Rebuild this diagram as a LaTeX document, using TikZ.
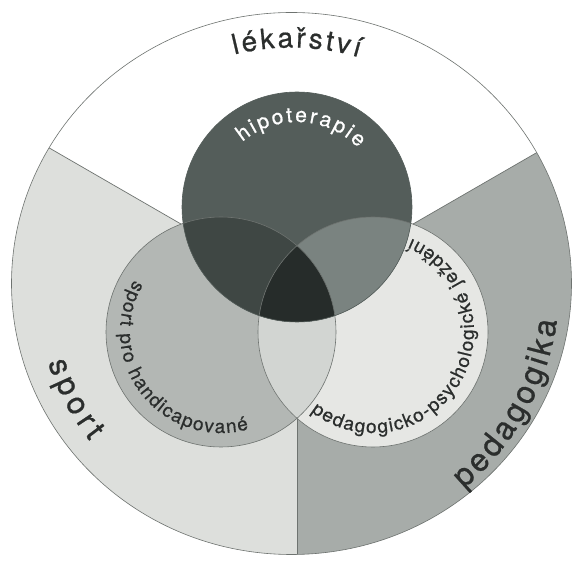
\documentclass[tikz,border=0pt]{standalone}
\usepackage{fontspec}
\usetikzlibrary{decorations.text,calc}
\newfontfamily\labfont[FakeBold=0.7]{TeX Gyre Heros}
\newcommand\fLek{\labfont\fontsize{28}{28}\selectfont}
\newcommand\fSport{\labfont\fontsize{31}{31}\selectfont}
\newcommand\fPed{\labfont\fontsize{32}{32}\selectfont}
\newcommand\fHipo{\labfont\fontsize{21}{21}\selectfont}
\newcommand\fInner{\labfont\fontsize{19}{19}\selectfont}
\definecolor{sectL}{HTML}{DDDFDC}
\definecolor{sectR}{HTML}{A7ACA9}
\definecolor{circL}{HTML}{B3B7B4}
\definecolor{circR}{HTML}{E6E7E4}
\definecolor{lensLR}{HTML}{D2D5D2}
\definecolor{circT}{HTML}{545D5A}
\definecolor{lensTL}{HTML}{3F4744}
\definecolor{lensTR}{HTML}{7A8380}
\definecolor{core}{HTML}{262C2A}
\definecolor{edge}{HTML}{6E7370}
\definecolor{ink}{HTML}{2B2E2D}
\tikzset{
  outline/.style={draw=edge, line width=0.6pt},
  divider/.style={draw=edge, line width=0.7pt},
  arclabel/.style={decorate, decoration={text along path, text align={fit to path}, #1}},
}
\begin{document}
\begin{tikzpicture}[x=1pt,y=1pt]
\useasboundingbox (0,0) rectangle (573,562);
\fill[white] (0,0) rectangle (573,562);
\coordinate (E) at (291.5,278.5);
\coordinate (S) at (297,271);
\coordinate (T) at (297,355);
\coordinate (L) at (221,230);
\coordinate (R) at (373,230);
\coordinate (SL) at ($(S)+(150:420)$);
\coordinate (SR) at ($(S)+(30:420)$);
\coordinate (SD) at ($(S)+(270:420)$);
% sectors
\begin{scope}
  \clip (E) ellipse [x radius=280, y radius=271];
  \fill[white] (E) ellipse [x radius=280, y radius=271];
  \fill[sectL] (S) -- (SL) -- (SL |- SD) -- (SD) -- cycle;
  \fill[sectR] (S) -- (SD) -- (SR |- SD) -- (SR) -- cycle;
  \draw[divider] (S) -- (SL);
  \draw[divider] (S) -- (SR);
  \draw[divider] (S) -- (SD);
\end{scope}
% circles
\fill[circL] (L) circle [radius=115];
\fill[circR] (R) circle [radius=115];
\begin{scope}
  \clip (L) circle [radius=115];
  \fill[lensLR] (R) circle [radius=115];
\end{scope}
\fill[circT] (T) circle [radius=115];
\begin{scope}
  \clip (T) circle [radius=115];
  \fill[lensTL] (L) circle [radius=115];
  \fill[lensTR] (R) circle [radius=115];
  \clip (L) circle [radius=115];
  \fill[core] (R) circle [radius=115];
\end{scope}
\draw[outline] (L) circle [radius=115];
\draw[outline] (R) circle [radius=115];
\draw[outline, draw=circT] (T) circle [radius=115];
\draw[outline] (E) ellipse [x radius=280, y radius=271];
% labels
\path[shift={(E)}, arclabel={text color=ink, text={|\fLek|lékařství}}]
  (104:236) arc [start angle=104, end angle=73.4, radius=236];
\path[shift={(E)}, arclabel={text color=ink, text={|\fSport|sport}}]
  (198:256) arc [start angle=198, end angle=218, radius=256];
\path[shift={(E)}, arclabel={text color=ink, text={|\fPed|pedagogika}}]
  (310:268) arc [start angle=310, end angle=352, radius=268];
\path[shift={(T)}, arclabel={text color=white, text={|\fHipo|hipoterapie}}]
  (130:85) arc [start angle=130, end angle=44, radius=85];
\path[shift={(L)}, arclabel={text color=ink, text={|\fInner|sport pro handicapované}}]
  (149:101) arc [start angle=149, end angle=286, radius=101];
\path[shift={(R)}, arclabel={text color=ink, text={|\fInner|pedagogicko-psychologické ježdění}}]
  (232:101) arc [start angle=232, end angle=428, radius=101];
\end{tikzpicture}
\end{document}
